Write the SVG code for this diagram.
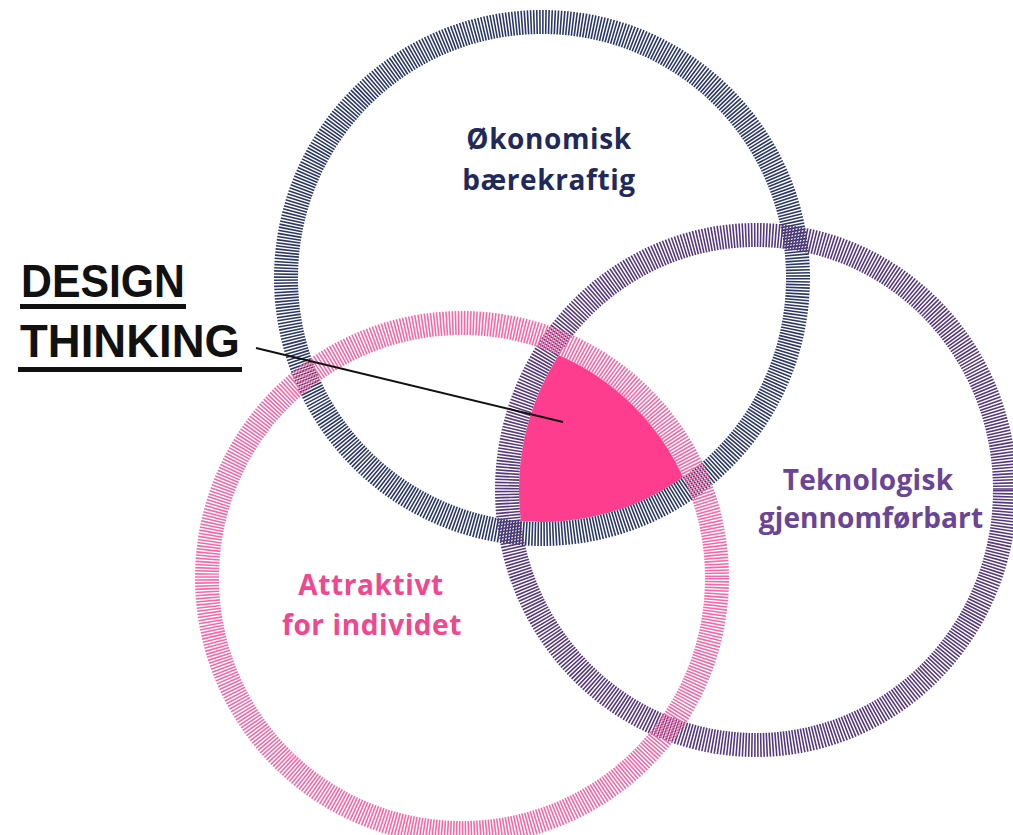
<svg xmlns="http://www.w3.org/2000/svg" width="1013" height="835" viewBox="0 0 1013 835">
<style>
.ring{fill:none;stroke-width:24;stroke-dasharray:1.6 1.4}
.lbl{font-family:"Open Sans","Liberation Sans",sans-serif;font-weight:700;font-size:28px;letter-spacing:0.6px;text-anchor:middle}
.title{font-family:"Liberation Sans",Arial,sans-serif;font-weight:700;font-size:46px;fill:#111}
</style>
<defs>
<clipPath id="cBlue"><circle cx="542" cy="278" r="244"/></clipPath>
<clipPath id="cPurple"><ellipse cx="756" cy="490" rx="237" ry="243"/></clipPath>
</defs>
<rect width="1013" height="835" fill="#fff"/>
<g id="center-fill" clip-path="url(#cBlue)">
<g clip-path="url(#cPurple)">
<circle cx="462" cy="578" r="243" fill="#ff3d8e"/>
</g>
</g>
<g id="node-okonomisk">
<circle class="ring" cx="542" cy="278" r="256" stroke="#2b3864"/>
<text class="lbl" x="549" y="149" fill="#1f2a5a">Økonomisk</text>
<text class="lbl" x="549" y="190" fill="#1f2a5a">bærekraftig</text>
</g>
<g id="node-teknologisk">
<ellipse class="ring" cx="756" cy="490" rx="249" ry="255" stroke="#56397c"/>
<text class="lbl" x="868" y="490" fill="#6a4496" style="letter-spacing:0.3px">Teknologisk</text>
<text class="lbl" x="871" y="528" fill="#6a4496" style="letter-spacing:0.1px">gjennomførbart</text>
</g>
<g id="node-attraktivt">
<circle class="ring" cx="462" cy="578" r="255" stroke="#f26aa6"/>
<text class="lbl" x="371" y="595" fill="#f0478f">Attraktivt</text>
<text class="lbl" x="372" y="635" fill="#f0478f">for individet</text>
</g>
<g id="node-design-thinking">
<text class="title" x="21" y="297" textLength="164" lengthAdjust="spacingAndGlyphs">DESIGN</text>
<rect x="20" y="304" width="166" height="5" fill="#111"/>
<text class="title" x="20" y="357" textLength="220" lengthAdjust="spacingAndGlyphs">THINKING</text>
<rect x="18" y="367" width="224" height="5" fill="#111"/>
</g>
<g id="connectors">
<line x1="256" y1="348" x2="563" y2="422" stroke="#111" stroke-width="2"/>
</g>
</svg>
